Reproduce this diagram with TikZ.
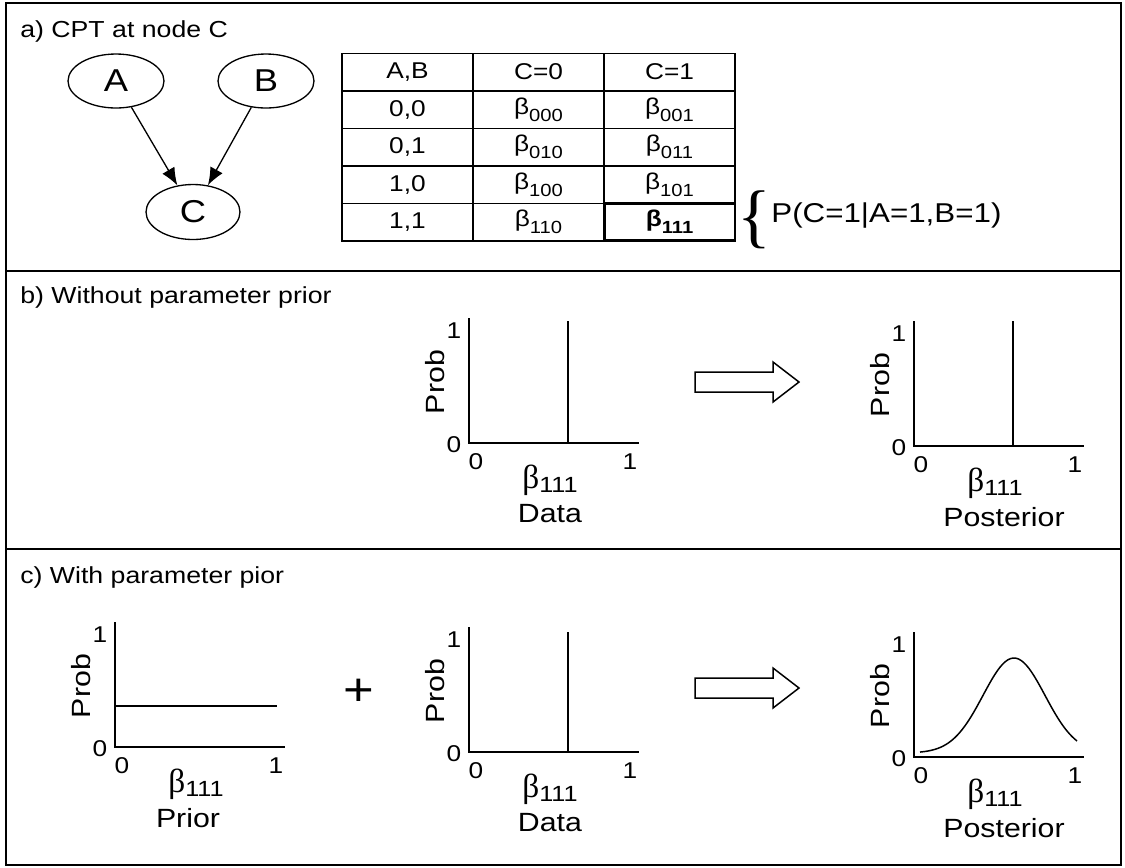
\documentclass[tikz,border=0pt]{standalone}
\usepackage{fontspec}
\setmainfont[FakeStretch=1.15]{Liberation Sans}
\newfontfamily\betafont{Liberation Serif}
\usepackage{tikz}
\usetikzlibrary{arrows.meta, shapes.geometric}
\newcommand{\cptbeta}[1]{β\raisebox{-0.55ex}{\fontsize{10}{11}\selectfont #1}}
\newcommand{\plotbeta}{{\betafont\fontsize{19}{22}\selectfont β}\raisebox{-0.45ex}{\fontsize{12.5}{14}\selectfont 111}}

\begin{document}
\begin{tikzpicture}[
  x=0.02cm, y=-0.02cm,
  var/.style={ellipse, draw, line width=0.75pt, minimum width=1.92cm, minimum height=1.08cm, inner sep=0pt, font=\fontsize{18}{21}\selectfont},
  cell/.style={rectangle, draw, line width=0.8pt, minimum width=2.62cm, minimum height=0.752cm, inner sep=0pt, font=\fontsize{13}{15}\selectfont},
  title/.style={anchor=base west, inner sep=0pt, font=\fontsize{13.2}{16}\selectfont},
  frame/.style={line width=1.3pt},
  axis/.style={line width=0.85pt},
  tick/.style={inner sep=0pt, font=\fontsize{13}{15}\selectfont},
  ylabel/.style={inner sep=0pt, rotate=90, font=\fontsize{15}{17}\selectfont},
  caption/.style={inner sep=0pt, font=\fontsize{15}{17}\selectfont},
  line/.style={draw, line width=0.75pt, -{Latex[length=10pt, width=8pt]}},
  hollow/.style={draw, line width=0.85pt}
]
  \useasboundingbox (0,0) rectangle (1125,867);

  \draw[frame] (6,3) rectangle (1121,865);
  \draw[frame] (6,271) -- (1121,271);
  \draw[frame] (6,549) -- (1121,549);

  \node[title] (ta) at (20,37)  {a) CPT at node C};
  \node[title] (tb) at (20,303) {b) Without parameter prior};
  \node[title] (tc) at (20,583) {c) With parameter pior};

  % network
  \node[var] (A) at (116,81)  {A};
  \node[var] (B) at (266,81)  {B};
  \node[var, minimum width=1.88cm, minimum height=1.1cm] (C) at (193,212) {C};

  \path[line] (A) -- (C);
  \path[line] (B) -- (C);

  % CPT
  \node[cell] (hAB) at (407.5,72)  {A,B};
  \node[cell] (hC0) at (538.5,72)  {C=0};
  \node[cell] (hC1) at (669.5,72)  {C=1};
  \node[cell] (v00) at (407.5,109.5) {0,0};
  \node[cell] (b000) at (538.5,109.5) {\cptbeta{000}};
  \node[cell] (b001) at (669.5,109.5) {\cptbeta{001}};
  \node[cell] (v01) at (407.5,147) {0,1};
  \node[cell] (b010) at (538.5,147) {\cptbeta{010}};
  \node[cell] (b011) at (669.5,147) {\cptbeta{011}};
  \node[cell] (v10) at (407.5,184.5) {1,0};
  \node[cell] (b100) at (538.5,184.5) {\cptbeta{100}};
  \node[cell] (b101) at (669.5,184.5) {\cptbeta{101}};
  \node[cell] (v11) at (407.5,222) {1,1};
  \node[cell] (b110) at (538.5,222) {\cptbeta{110}};
  \node[cell, line width=1.7pt] (b111) at (669.5,222) {\bfseries\cptbeta{111}};

  \node[inner sep=0pt, font=\betafont\fontsize{40}{42}\selectfont] (brace) at (754,220) {\{};
  \node[anchor=west, inner sep=0pt, font=\fontsize{15.5}{18}\selectfont] (pcond) at (771,216) {P(C=1|A=1,B=1)};

  % plots
  \foreach \p/\ox/\oy/\cap/\cx in {db/469/443/Data/81, pb/914/446/Posterior/90, pr/115/747/Prior/73, dc/469/752/Data/81, pc/914/757/Posterior/90} {
    \begin{scope}[shift={(\ox,\oy)}]
      \draw[axis] (0,-125) -- (0,0) -- (170,0);
      \node[tick] (\p-y1) at (-15,-112) {1};
      \node[tick] (\p-y0) at (-15,2) {0};
      \node[ylabel] (\p-prob) at (-34,-61) {Prob};
      \node[tick] (\p-x0) at (7,19) {0};
      \node[tick] (\p-x1) at (161,19) {1};
      \node[inner sep=0pt, anchor=base] (\p-beta) at (81,45) {\plotbeta};
      \node[caption] (\p-cap) at (\cx,71) {\cap};
    \end{scope}
  }

  \draw[axis] (568,443) -- (568,321);
  \draw[axis] (1013,446) -- (1013,321);
  \draw[axis] (115,706) -- (277,706);
  \draw[axis] (568,752) -- (568,632);
  \begin{scope}[shift={(914,757)}]
    \draw[axis] plot[domain=6:163, samples=60, smooth] (\x, {-(4+95*exp(-((\x-100)/31)^2/2))});
  \end{scope}

  \node[inner sep=0pt, font=\fontsize{26}{28}\selectfont] (plus) at (359,692) {+};

  \foreach \dy in {0,306} {
    \draw[hollow] (695,372+\dy) -- (773,372+\dy) -- (773,362+\dy) -- (799,382+\dy)
      -- (773,402+\dy) -- (773,392+\dy) -- (695,392+\dy) -- cycle;
  }
\end{tikzpicture}
\end{document}
